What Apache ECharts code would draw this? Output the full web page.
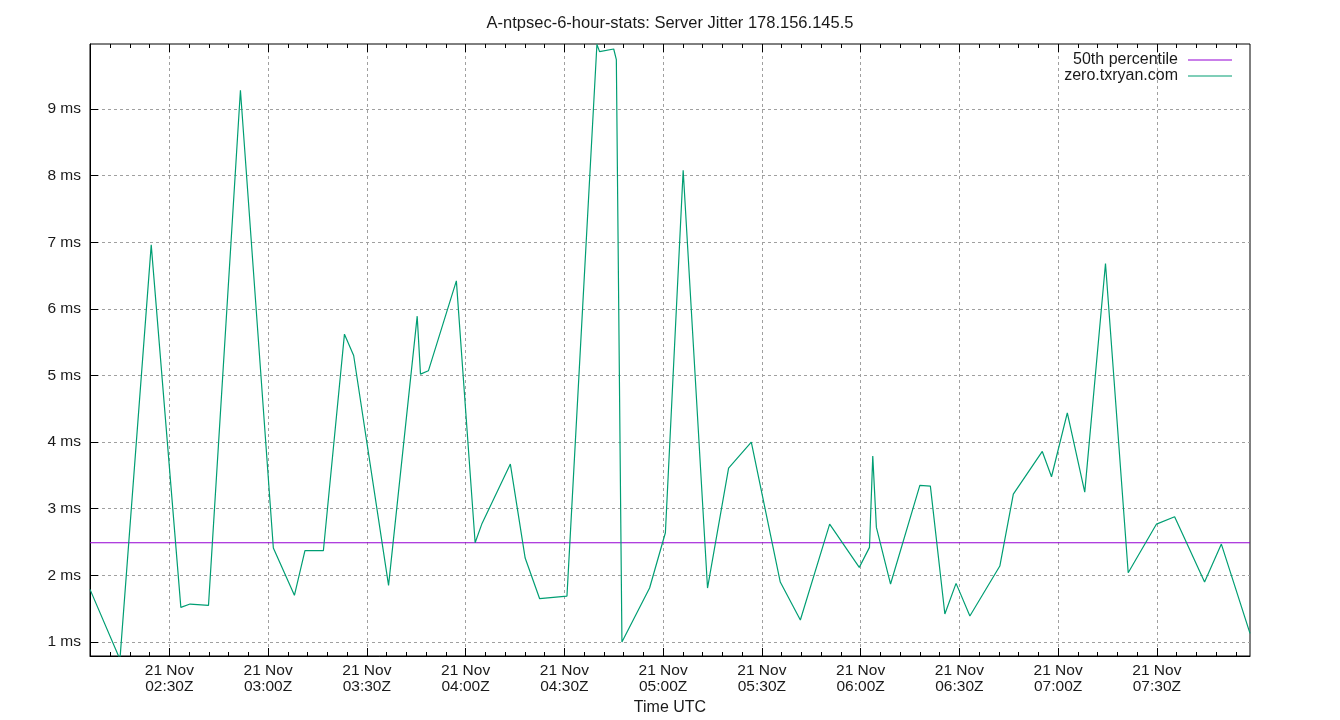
<!DOCTYPE html>
<html><head><meta charset="utf-8">
<script src="https://cdn.jsdelivr.net/npm/echarts@6/dist/echarts.min.js"></script>
<style>html,body{margin:0;padding:0;background:#fff}#c{width:1340px;height:720px}</style>
</head><body><div id="c"></div>
<script>
// Time in minutes since 00:00 UTC on 21 Nov
const minutes = [125.9,135.0,144.5,153.5,156.3,161.9,171.6,181.6,188.0,191.2,196.8,203.2,206.0,216.6,225.3,226.3,228.7,237.2,242.9,245.0,253.6,258.1,262.5,270.8,279.9,280.7,285.0,285.8,287.5,295.9,300.7,306.1,313.5,319.9,326.8,335.6,341.7,350.6,359.6,362.7,363.7,364.8,369.1,378.0,381.2,385.6,389.0,390.3,393.2,402.3,406.4,415.2,418.0,422.8,428.1,434.4,441.3,449.9,455.4,464.5,469.6,478.3];
// Jitter in ms
const jitter = [1.79,0.74,6.96,1.52,1.57,1.55,9.28,2.41,1.70,2.37,2.37,5.62,5.30,1.85,5.89,5.02,5.07,6.42,2.49,2.78,3.67,2.26,1.65,1.69,9.97,9.86,9.90,9.74,1.00,1.81,2.64,8.08,1.81,3.61,4.00,1.90,1.33,2.77,2.12,2.42,3.79,2.72,1.87,3.35,3.34,1.42,1.88,1.73,1.39,2.14,3.22,3.86,3.48,4.44,3.25,6.68,2.04,2.77,2.88,1.90,2.47,1.13];
const median = 2.49;
const majorTicks = [150,180,210,240,270,300,330,360,390,420,450];
const yTicks = [1,2,3,4,5,6,7,8,9];
const seriesNames = ['50th percentile','zero.txryan.com'];
const xMin = 125.9, xMax = 478.3, yMin = 0.79, yMax = 9.975;

const minorTicks = [];
for (let m = Math.ceil(xMin/6)*6; m <= xMax; m += 6) if (m % 30 !== 0) minorTicks.push(m);

function fmt(v){
  const h = Math.floor(v/60), m = Math.round(v - h*60);
  return '21 Nov\n' + String(h).padStart(2,'0') + ':' + String(m).padStart(2,'0') + 'Z';
}
const font = '"Liberation Sans", Arial, sans-serif';
const tickAxis = (pos, custom, len) => ({
  type:'value', position:pos, min:xMin, max:xMax,
  axisLine:{show:false}, axisLabel:{show:false}, splitLine:{show:false},
  axisTick:{show:true, inside:true, length:len, customValues:custom, lineStyle:{color:'#000',width:1}}
});

const chart = echarts.init(document.getElementById('c'), null, {renderer:'canvas'});
chart.setOption({
  animation:false,
  backgroundColor:'#fff',
  textStyle:{fontFamily:font, color:'#000'},
  title:{text:'A-ntpsec-6-hour-stats: Server Jitter 178.156.145.5', left:'center', top:10,
    textStyle:{fontSize:16.5, fontWeight:'normal', color:'#1a1a1a', fontFamily:font}},
  legend:{orient:'vertical', right:103, top:47, align:'right', itemGap:0, padding:5,
    itemWidth:44, itemHeight:1, icon:'rect',
    textStyle:{fontSize:16, lineHeight:15, color:'#1a1a1a', fontFamily:font, padding:[0,5,0,0]},
    data:seriesNames},
  grid:{left:90, right:90, top:44, bottom:64, show:true, borderColor:'#000', borderWidth:1,
    containLabel:false, outerBoundsMode:'none'},
  xAxis:[
    {type:'value', position:'bottom', min:xMin, max:xMax,
     name:'Time UTC', nameLocation:'middle', nameGap:44,
     nameTextStyle:{fontSize:16, color:'#1a1a1a', fontFamily:font},
     axisLine:{show:true, lineStyle:{color:'#000', width:1}},
     axisTick:{show:true, inside:true, length:8, customValues:majorTicks, lineStyle:{color:'#000'}},
     axisLabel:{customValues:majorTicks, formatter:fmt, fontSize:15.5, color:'#1a1a1a', margin:7, lineHeight:16, fontFamily:font},
     splitLine:{show:true, lineStyle:{color:'#a0a0a0', type:[3,3], width:1}}},
    tickAxis('bottom', minorTicks, 4),
    tickAxis('top', majorTicks, 8),
    tickAxis('top', minorTicks, 4)
  ],
  yAxis:{type:'value', min:yMin, max:yMax,
    axisLine:{show:true, lineStyle:{color:'#000', width:1}},
    axisTick:{show:true, inside:true, length:8, customValues:yTicks, lineStyle:{color:'#000'}},
    axisLabel:{customValues:yTicks, formatter:'{value} ms', fontSize:15.5, color:'#1a1a1a', margin:9, fontFamily:font},
    splitLine:{show:true, lineStyle:{color:'#a0a0a0', type:[3,3], width:1}}},
  series:[
    {name:seriesNames[0], type:'line', xAxisIndex:0, symbol:'none', clip:true,
     lineStyle:{color:'#9400d3', width:1.2}, itemStyle:{color:'#9400d3'},
     data:[[xMin, median],[xMax, median]]},
    {name:seriesNames[1], type:'line', xAxisIndex:0, symbol:'none', clip:true,
     lineStyle:{color:'#009e73', width:1.2}, itemStyle:{color:'#009e73'},
     data:minutes.map((m,i)=>[m, jitter[i]])}
  ]
});
</script></body></html>
